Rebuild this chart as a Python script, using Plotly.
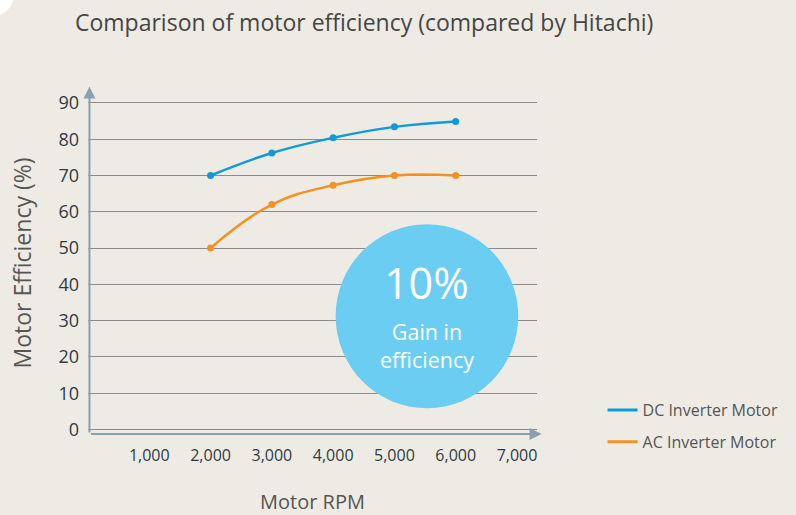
import plotly.graph_objects as go

rpm = [2000, 3000, 4000, 5000, 6000]
dc_eff = [70, 76.2, 80.4, 83.4, 84.9]
ac_eff = [50, 62.0, 67.3, 70, 70]
x_tick_vals = [1000, 2000, 3000, 4000, 5000, 6000, 7000]
x_tick_text = ["1,000", "2,000", "3,000", "4,000", "5,000", "6,000", "7,000"]
y_tick_vals = [0, 10, 20, 30, 40, 50, 60, 70, 80, 90]

BG = "#eeebe4"
BLUE = "#0f9bd9"
ORANGE = "#f7901e"
FONT = "Open Sans"

fig = go.Figure()
fig.add_trace(go.Scatter(x=rpm, y=dc_eff, mode="lines+markers", name="DC Inverter Motor",
                         line=dict(color=BLUE, width=2.5, shape="spline", smoothing=1.2),
                         marker=dict(size=7, color=BLUE), showlegend=False))
fig.add_trace(go.Scatter(x=rpm, y=ac_eff, mode="lines+markers", name="AC Inverter Motor",
                         line=dict(color=ORANGE, width=2.5, shape="spline", smoothing=1.2),
                         marker=dict(size=7, color=ORANGE), showlegend=False))
# legend entries
fig.add_trace(go.Scatter(x=[None], y=[None], mode="lines", name="DC Inverter Motor",
                         line=dict(color=BLUE, width=3), legendgroup="dc"))
fig.add_trace(go.Scatter(x=[None], y=[None], mode="lines", name="AC Inverter Motor",
                         line=dict(color=ORANGE, width=3), legendgroup="ac"))

# highlight circle
fig.add_shape(type="circle", xref="x", yref="y", x0=4040, x1=7020, y0=5.9, y1=56.6,
              fillcolor="#6bcdf2", line=dict(width=0), layer="above")
fig.add_annotation(x=5530, y=31.9, xref="x", yref="y", yanchor="bottom", text="10%", showarrow=False,
                   font=dict(family=FONT, size=43, color="white"))
fig.add_annotation(x=5530, y=31.7, xref="x", yref="y", yanchor="top", text="Gain in<br>efficiency",
                   showarrow=False, font=dict(family=FONT, size=21.5, color="white"))

AXC = "#8c9fae"
# y-axis line with arrow
fig.add_annotation(x=24, y=94.5, ax=24, ay=-1.2, xref="x", yref="y", axref="x", ayref="y",
                   text="", showarrow=True, arrowhead=2, arrowsize=1.2, arrowwidth=2, arrowcolor=AXC)
# x-axis line with arrow
fig.add_annotation(x=7400, y=-1.2, ax=24, ay=-1.2, xref="x", yref="y", axref="x", ayref="y",
                   text="", showarrow=True, arrowhead=2, arrowsize=1.2, arrowwidth=2, arrowcolor=AXC)

# white corner
fig.add_shape(type="circle", xref="paper", yref="paper",
              x0=(-30 - 88) / 452, x1=(14 - 88) / 452, y0=(440 - 16) / 354, y1=(440 + 30) / 354,
              fillcolor="white", line=dict(width=0), layer="above")

fig.update_layout(
    width=796, height=515,
    paper_bgcolor=BG, plot_bgcolor=BG,
    margin=dict(l=88, r=256, t=86, b=75),
    title=dict(text="Comparison of motor efficiency (compared by Hitachi)", x=75 / 796, xanchor="left",
               y=1 - 23 / 515, yanchor="middle", font=dict(family=FONT, size=23, color="#454545")),
    xaxis=dict(range=[0, 7326], tickvals=x_tick_vals, ticktext=x_tick_text, showgrid=False,
               zeroline=False, showline=False, ticks="", ticklabelstandoff=4, automargin=False,
               tickfont=dict(family=FONT, size=16, color="#2e3b45"),
               title=dict(text="Motor RPM", font=dict(family=FONT, size=20, color="#555555"), standoff=32)),
    yaxis=dict(range=[-2.87, 94.66], tickvals=y_tick_vals, showgrid=True, gridcolor="#8c8c8c", gridwidth=1.3,
               zeroline=False, showline=False, ticks="", ticklabelstandoff=8, automargin=False,
               tickfont=dict(family=FONT, size=18, color="#2e3b45"),
               title=dict(text="Motor Efficiency (%)", font=dict(family=FONT, size=23, color="#555555"), standoff=20)),
    legend=dict(x=(606 - 88) / 452, y=(440 - 393) / 354, xanchor="left", yanchor="top",
                bgcolor="rgba(0,0,0,0)", font=dict(family=FONT, size=16, color="#555555"),
                tracegroupgap=8),
    showlegend=True,
)
fig.write_html("out.html", config={"displayModeBar": False},
               post_script="document.body.style.margin='0';document.body.style.padding='0';")
